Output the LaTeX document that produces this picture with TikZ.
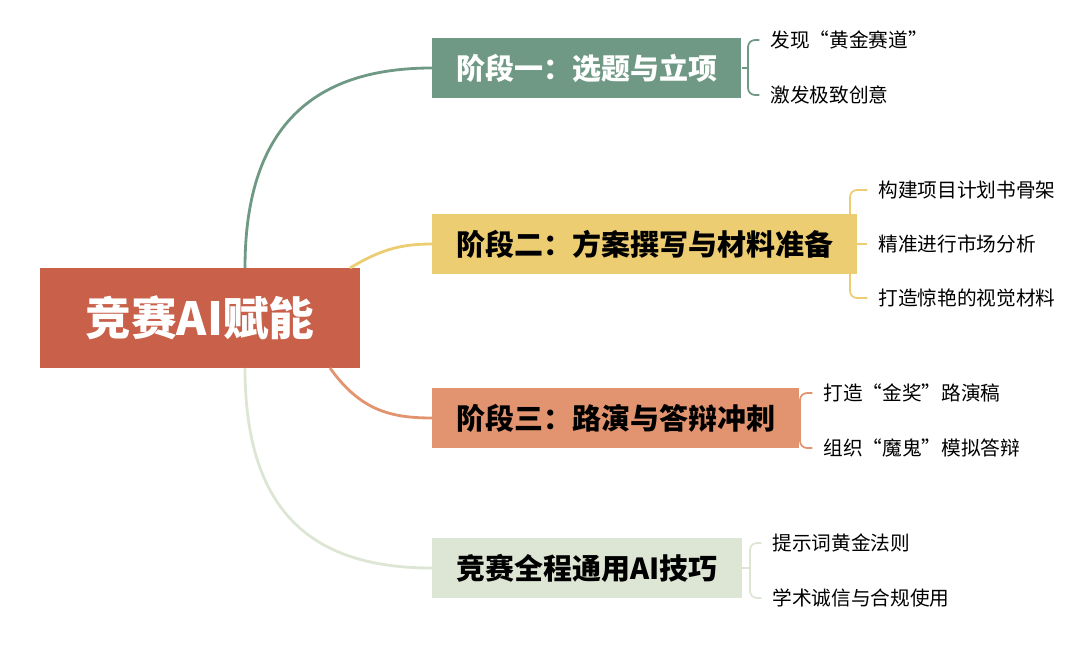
\documentclass[tikz,border=0pt]{standalone}
\usepackage{fontspec}
\setmainfont{Noto Sans CJK SC}
\usetikzlibrary{positioning}
\definecolor{rootc}{HTML}{C8604A}
\definecolor{onec}{HTML}{6F9985}
\definecolor{twoc}{HTML}{EDCD72}
\definecolor{threec}{HTML}{E29470}
\definecolor{fourc}{HTML}{DDE6D4}
\tikzset{
  stage/.style={rectangle, minimum height=1.2cm, inner xsep=0.48cm, font=\fontsize{16.5}{18}\selectfont\bfseries, anchor=west},
  leaf/.style={anchor=west, inner sep=0pt, font=\fontsize{11.2}{13}\selectfont},
  link/.style={line width=1.6pt},
  brace/.style={line width=1pt, rounded corners=4pt}
}
\begin{document}
\begin{tikzpicture}[x=0.02cm, y=-0.02cm]
    \useasboundingbox (0,0) rectangle (1080,655);
    % Root
    \node[fill=rootc, text=white, minimum width=6.4cm, minimum height=2cm, font=\fontsize{26}{30}\selectfont\bfseries] (root) at (200,318) {竞赛AI赋能};
    % Stages
    \node[stage, fill=onec, text=white] (s1) at (432,68) {阶段一：选题与立项};
    \node[stage, fill=twoc] (s2) at (432,244) {阶段二：方案撰写与材料准备};
    \node[stage, fill=threec] (s3) at (432,418) {阶段三：路演与答辩冲刺};
    \node[stage, fill=fourc] (s4) at (432,568) {竞赛全程通用AI技巧};
    % Links from root
    \draw[link, onec] (245,268) .. controls (245,120) and (320,68) .. (s1.west);
    \draw[link, twoc] (350,268) .. controls (380,250) and (400,244) .. (s2.west);
    \draw[link, threec] (330,368) .. controls (360,410) and (390,418) .. (s3.west);
    \draw[link, fourc] (245,368) .. controls (245,520) and (320,568) .. (s4.west);
    % Leaves
    \node[leaf] (l11) at (770,40) {发现“黄金赛道”};
    \node[leaf] (l12) at (770,95) {激发极致创意};
    \node[leaf] (l21) at (878,190) {构建项目计划书骨架};
    \node[leaf] (l22) at (878,244) {精准进行市场分析};
    \node[leaf] (l23) at (878,298) {打造惊艳的视觉材料};
    \node[leaf] (l31) at (823,393) {打造“金奖”路演稿};
    \node[leaf] (l32) at (823,448) {组织“魔鬼”模拟答辩};
    \node[leaf] (l41) at (772,543) {提示词黄金法则};
    \node[leaf] (l42) at (772,598) {学术诚信与合规使用};
    % Braces
    \draw[brace, onec] (s1.east) -- (748,68);
    \draw[brace, onec] ([xshift=-6]l11.west) -- (748,40) -- (748,95) -- ([xshift=-6]l12.west);
    \draw[brace, twoc] (s2.east) -- (850,244) -- ([xshift=-6]l22.west);
    \draw[brace, twoc] ([xshift=-6]l21.west) -- (850,190) -- (850,298) -- ([xshift=-6]l23.west);
    \draw[brace, threec] (s3.east) -- (800,418);
    \draw[brace, threec] ([xshift=-6]l31.west) -- (800,393) -- (800,448) -- ([xshift=-6]l32.west);
    \draw[brace, fourc] (s4.east) -- (750,568);
    \draw[brace, fourc] ([xshift=-6]l41.west) -- (750,543) -- (750,598) -- ([xshift=-6]l42.west);
\end{tikzpicture}
\end{document}
